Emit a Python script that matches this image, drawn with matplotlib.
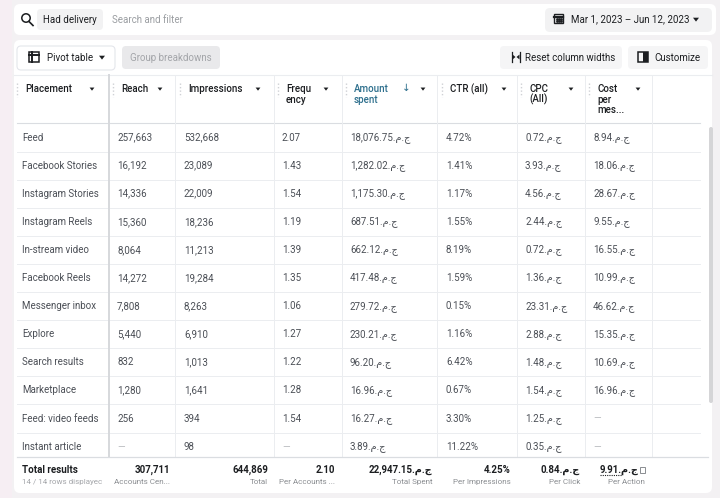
"""Ads Manager placement breakdown table, redrawn as a static figure."""

import matplotlib.pyplot as plt
from matplotlib.patches import FancyBboxPatch, Rectangle, Circle

plt.rcParams["font.family"] = ["Roboto", "DejaVu Sans"]

CUR = ".م.ج"

PLACEMENTS = ["Feed", "Facebook Stories", "Instagram Stories", "Instagram Reels",
              "In-stream video", "Facebook Reels", "Messenger inbox", "Explore",
              "Search results", "Marketplace", "Feed: video feeds", "Instant article"]
REACH = ["257,663", "16,192", "14,336", "15,360", "8,064", "14,272", "7,808",
         "5,440", "832", "1,280", "256", "—"]
IMPRESSIONS = ["532,668", "23,089", "22,009", "18,236", "11,213", "19,284", "8,263",
               "6,910", "1,013", "1,641", "394", "98"]
FREQUENCY = ["2.07", "1.43", "1.54", "1.19", "1.39", "1.35", "1.06",
             "1.27", "1.22", "1.28", "1.54", "—"]
AMOUNT = ["18,076.75", "1,282.02", "1,175.30", "687.51", "662.12", "417.48", "279.72",
          "230.21", "96.20", "16.96", "16.27", "3.89"]
CTR = ["4.72%", "1.41%", "1.17%", "1.55%", "8.19%", "1.59%", "0.15%",
       "1.16%", "6.42%", "0.67%", "3.30%", "11.22%"]
CPC = ["0.72", "3.93", "4.56", "2.44", "0.72", "1.36", "23.31",
       "2.88", "1.48", "1.54", "1.25", "0.35"]
COST = ["8.94", "18.06", "28.67", "9.55", "16.55", "10.99", "46.62",
        "15.35", "10.69", "16.96", None, None]

TOTALS = ["307,711", "644,869", "2.10", "22,947.15" + CUR, "4.25%", "0.84" + CUR]
TOTAL_SUBS = ["Accounts Cen...", "Total", "Per Accounts ...", "Total Spent",
              "Per Impressions", "Per Click"]

HEADERS = [["Placement"], ["Reach"], ["Impressions"], ["Frequ", "ency"],
           ["Amount", "spent"], ["CTR (all)"], ["CPC", "(All)"], ["Cost", "per", "mes..."]]

# layout (pixel coordinates, y down)
HEAD_X = [17, 113, 180, 278, 346, 442, 521, 589]
CELL_X = [22, 117, 184, 282, 350, 446, 525, 593]
ARROW_X = [92, 160, 258, 326, 423, 504, 571, 638]
COL_LINES = [175, 274, 342, 437, 517, 585, 652]
TOTAL_RIGHT = [170, 268, 335, 432, 511, 580]
ROW0, ROW_H = 137.5, 28.1

DARK = "#1c1e21"
BODY = "#4b4f56"
GREY = "#8a8d91"
LINE = "#ebedf0"

fig = plt.figure(figsize=(7.2, 4.98), dpi=100)
fig.patch.set_facecolor("#f3f1f3")
ax = fig.add_axes([0, 0, 1, 1])
ax.set_xlim(0, 720)
ax.set_ylim(498, 0)
ax.axis("off")


def txt(x, y, s, size=7, color=BODY, **kw):
    ax.text(x, y, s, fontsize=size, color=color, va="center", **kw)


def box(x0, y0, x1, y1, fc, ec="none", r=4, lw=0.8, z=1):
    ax.add_patch(FancyBboxPatch((x0, y0), x1 - x0, y1 - y0,
                                boxstyle=f"round,pad=0,rounding_size={r}",
                                fc=fc, ec=ec, lw=lw, zorder=z))


def tri(x, y, color=DARK, s=3.0):
    ax.fill([x - s, x + s, x], [y - s * 0.6, y - s * 0.6, y + s * 0.7],
            color=color, lw=0, zorder=5)


# left tint
ax.add_patch(Rectangle((0, 0), 12, 498, fc="#f6eef3", ec="none", zorder=0))

# search bar
box(14, 4, 716, 35, "white", r=6)
ax.add_patch(Circle((26, 18), 4.2, fc="none", ec=DARK, lw=1.1, zorder=3))
ax.plot([29, 33], [21.5, 25.5], color=DARK, lw=1.2, zorder=3)
box(37, 9, 103, 30, "#f2f2f3", r=4, z=2)
txt(43, 19.5, "Had delivery", color=DARK, zorder=3)
txt(112, 19.5, "Search and filter", color="#9a9da1", zorder=3)
box(545, 8, 712, 32, "#f2f2f3", r=5, z=2)
ax.add_patch(Rectangle((554, 14), 9, 9, fc="none", ec=DARK, lw=1.0, zorder=3))
ax.plot([554, 563], [16.5, 16.5], color=DARK, lw=1.6, zorder=3)
for gx in (556.5, 558.5, 560.5):
    for gy in (19, 21.3):
        ax.plot(gx, gy, "s", ms=0.9, color=DARK, zorder=3)
txt(571, 19.5, "Mar 1, 2023 – Jun 12, 2023", color=DARK, zorder=3)
tri(696, 19.5)

# table panel
box(14, 40, 712, 493, "white", r=6)

# toolbar
box(17, 46, 115, 70, "white", ec="#e4e6eb", r=4, z=2)
ax.add_patch(Rectangle((29, 52), 10, 10, fc="none", ec=DARK, lw=1.1, zorder=3))
ax.plot([29, 39], [55, 55], color=DARK, lw=1.4, zorder=3)
ax.plot([32, 32], [52, 62], color=DARK, lw=1.4, zorder=3)
txt(47, 57.5, "Pivot table", color=DARK, zorder=3)
tri(102, 57.5)
box(122, 46, 220, 69, "#e9e9eb", r=4, z=2)
txt(171, 57.5, "Group breakdowns", color="#a3a5a9", ha="center", zorder=3)
box(500, 46, 622, 69, "#f5f5f6", r=4, z=2)
ax.plot([512, 512], [52, 62], color=DARK, lw=0.9, zorder=3)
ax.plot([520, 520], [52, 62], color=DARK, lw=0.9, zorder=3)
ax.fill([512.5, 515.5, 512.5], [54.5, 57, 59.5], color=DARK, lw=0, zorder=3)
ax.fill([519.5, 516.5, 519.5], [54.5, 57, 59.5], color=DARK, lw=0, zorder=3)
txt(525, 57.5, "Reset column widths", color=DARK, zorder=3)
box(628, 46, 708, 69, "#f5f5f6", r=4, z=2)
ax.add_patch(Rectangle((638, 52), 10, 10, fc="none", ec=DARK, lw=1.1, zorder=3))
ax.add_patch(Rectangle((643, 52), 5, 10, fc=DARK, ec="none", zorder=3))
txt(654, 57.5, "Customize", color=DARK, zorder=3)

# header
ax.plot([14, 712], [75, 75], color=LINE, lw=0.8, zorder=2)
for i, lines in enumerate(HEADERS):
    col = "#2c6e8c" if i == 4 else DARK
    for j, s in enumerate(lines):
        txt(HEAD_X[i] + 8, 89 + 10.7 * j, s, color=col, fontweight="medium", zorder=3)
    ax.plot([HEAD_X[i], HEAD_X[i]], [83, 97], color="#cfd1d5", lw=1.0,
            ls=(0, (1, 1.5)), zorder=3)
    tri(ARROW_X[i], 89, s=2.4)
txt(402, 88, "↓", size=7.5, color="#2c6e8c", zorder=3)

# grid lines
ax.plot([17, 700], [123, 123], color="#dadde1", lw=0.8, zorder=2)
for k in range(1, len(PLACEMENTS)):
    y = ROW0 + ROW_H * (k - 0.5)
    ax.plot([17, 700], [y, y], color=LINE, lw=0.7, zorder=2)
for x in COL_LINES:
    ax.plot([x, x], [75, 457], color=LINE, lw=0.7, zorder=2)
ax.plot([109, 109], [75, 457], color="#d6d8dc", lw=1.4, zorder=3)
ax.plot([17, 708], [456.5, 456.5], color="#dadde1", lw=0.9, zorder=3)

# scrollbar
box(709, 127, 713, 403, "#d5d5d7", r=2, z=3)

# body rows
dash = "#b8bbbf"
for k, name in enumerate(PLACEMENTS):
    y = ROW0 + ROW_H * k
    vals = [name, REACH[k], IMPRESSIONS[k], FREQUENCY[k], AMOUNT[k] + CUR,
            CTR[k], CPC[k] + CUR, (COST[k] + CUR) if COST[k] else "—"]
    for i, s in enumerate(vals):
        c = dash if s == "—" else BODY
        txt(CELL_X[i], y, s, color=c, zorder=4)

# totals
txt(22, 470, "Total results", color=DARK, fontweight="bold", zorder=4)
txt(22, 481.5, "14 / 14 rows displayec", size=5.8, color="#a3a5a9", zorder=4)
for xr, s, sub in zip(TOTAL_RIGHT, TOTALS, TOTAL_SUBS):
    txt(xr, 470, s, color=DARK, fontweight="bold", ha="right", zorder=4)
    txt(xr, 481.5, sub, size=5.8, color=GREY, ha="right", zorder=4)
txt(600, 470, "9.91" + CUR, color=DARK, fontweight="bold", zorder=4)
ax.plot([600, 622], [475, 475], color=DARK, lw=0.8, ls=(0, (1, 1)), zorder=4)
ax.add_patch(Rectangle((640, 467), 5, 5.5, fc="none", ec=GREY, lw=0.7, zorder=4))
txt(645, 481.5, "Per Action", size=5.8, color=GREY, ha="right", zorder=4)

fig.savefig("out.png", dpi=100, facecolor=fig.get_facecolor())
